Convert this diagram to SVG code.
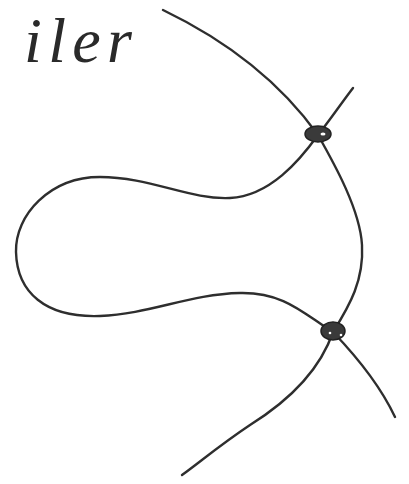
<svg xmlns="http://www.w3.org/2000/svg" width="409" height="484" viewBox="0 0 409 484">
<style>
.ln{fill:none;stroke:#2e2e2e;stroke-width:2.4;stroke-linecap:round;stroke-linejoin:round}
.nd{fill:#3a3a3a;stroke:#222;stroke-width:1.5}
.hl{fill:#fff}
.hw{font-family:"Liberation Serif",serif;font-style:italic;font-size:64px;fill:#2a2a2a}
</style>
<rect width="409" height="484" fill="#fff"/>
<text class="hw" x="24" y="62" textLength="108" lengthAdjust="spacing">iler</text>
<g id="connectors">
<path class="ln" d="M163,10 C215,35 275,75 318,135"/>
<path class="ln" d="M353,88 C340,105 330,120 318,135"/>
<path class="ln" d="M318,135 C300,160 270,196 230,198 C190,200 150,177 100,177 C50,177 15,215 16,252 C17,292 45,318 100,316 C150,314 190,294 240,293 C285,292 305,315 333,332"/>
<path class="ln" d="M318,135 C335,165 360,210 362,245 C364,280 350,305 333,332"/>
<path class="ln" d="M333,332 C320,370 290,400 250,425 C220,445 200,462 182,475"/>
<path class="ln" d="M333,332 C355,355 380,385 395,417"/>
</g>
<g id="node-top">
<ellipse class="nd" cx="318" cy="134" rx="13" ry="8"/>
<ellipse class="hl" cx="323" cy="134" rx="2.5" ry="1.5"/>
</g>
<g id="node-bottom">
<ellipse class="nd" cx="333" cy="331" rx="12" ry="9"/>
<circle class="hl" cx="330" cy="333" r="1.3"/>
<circle class="hl" cx="341" cy="335" r="1.3"/>
</g>
</svg>
